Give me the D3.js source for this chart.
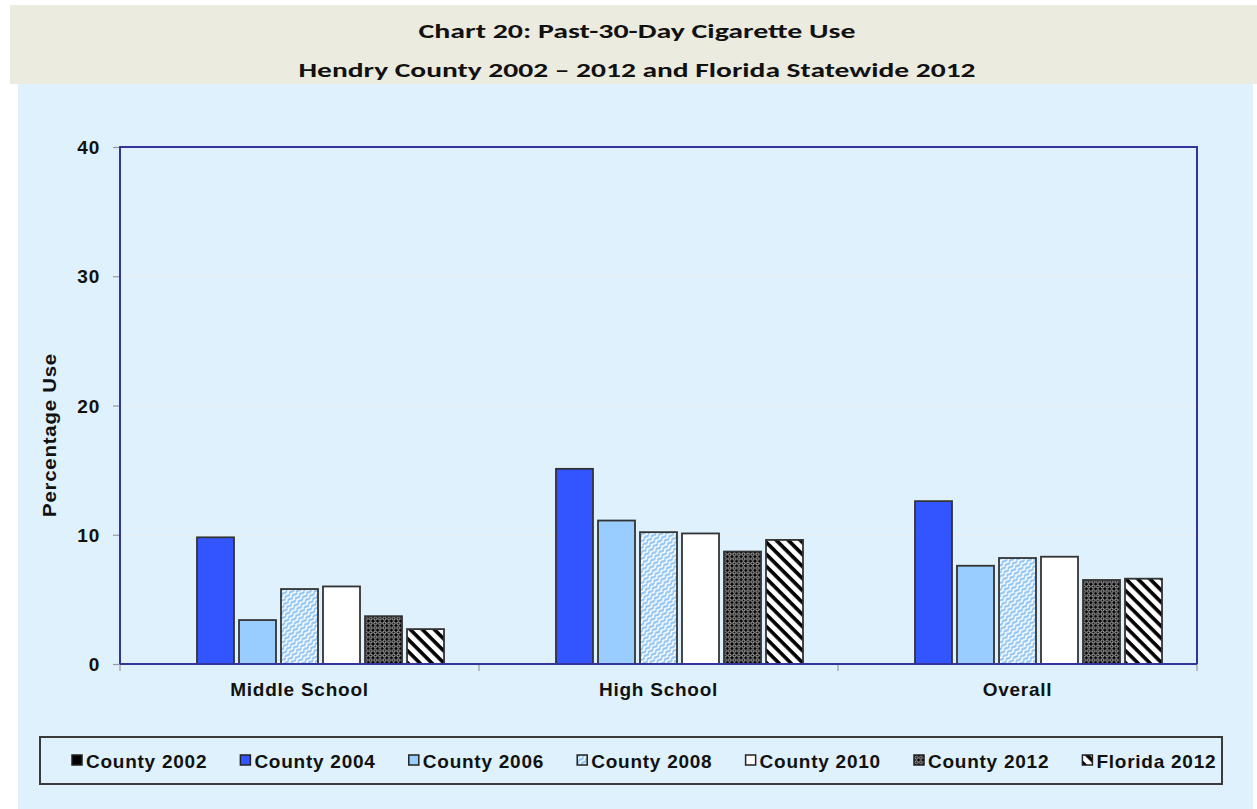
<!DOCTYPE html>
<html>
<head>
<meta charset="utf-8">
<script src="https://cdn.jsdelivr.net/npm/d3@7"></script>
<style>
  html, body { margin: 0; padding: 0; background: #ffffff; }
  svg { display: block; }
  .lbl { font-family: "Liberation Sans", Arial, sans-serif; font-weight: bold; font-size: 19px; fill: #111111; letter-spacing: 0.75px; }
</style>
</head>
<body>
<svg id="chart" width="1257" height="809"></svg>
<script>
const titleLines = ["Chart 20: Past-30-Day Cigarette Use", "Hendry County 2002 \u2013 2012 and Florida Statewide 2012"];
const categories = ["Middle School", "High School", "Overall"];
const seriesNames = ["County 2002", "County 2004", "County 2006", "County 2008", "County 2010", "County 2012", "Florida 2012"];
const county2002 = [null, null, null];
const county2004 = [9.8, 15.1, 12.6];
const county2006 = [3.4, 11.1, 7.6];
const county2008 = [5.8, 10.2, 8.2];
const county2010 = [6.0, 10.1, 8.3];
const county2012 = [3.7, 8.7, 6.5];
const florida2012 = [2.7, 9.6, 6.6];
const yTicks = [0, 10, 20, 30, 40];
const yTitle = "Percentage Use";

const seriesValues = [county2002, county2004, county2006, county2008, county2010, county2012, florida2012];
const fills = ["#000000", "#3355FF", "#99CCFF", "url(#p2008)", "#FFFFFF", "url(#p2012)", "url(#pFL)"];

const svg = d3.select("#chart");
const W = 1257, H = 809;
const plot = { left: 120, right: 1197, top: 147, bottom: 664 };

// defs / patterns
const defs = svg.append("defs");
const p08 = defs.append("pattern").attr("id", "p2008").attr("patternUnits", "userSpaceOnUse")
  .attr("width", 6).attr("height", 4.2).attr("patternTransform", "rotate(-45)");
p08.append("rect").attr("width", 6).attr("height", 4.2).attr("fill", "#ffffff");
p08.append("path").attr("d", "M0,2.1 Q1.5,0.7 3,2.1 T6,2.1").attr("fill", "none").attr("stroke", "#92C6F5").attr("stroke-width", 2.1);

const p12 = defs.append("pattern").attr("id", "p2012").attr("patternUnits", "userSpaceOnUse")
  .attr("width", 4.6).attr("height", 4.6);
p12.append("rect").attr("width", 4.6).attr("height", 4.6).attr("fill", "#000000");
p12.append("circle").attr("cx", 2.3).attr("cy", 2.3).attr("r", 1.5).attr("fill", "none").attr("stroke", "#ffffff").attr("stroke-width", 0.8);

const pFL = defs.append("pattern").attr("id", "pFL").attr("patternUnits", "userSpaceOnUse")
  .attr("width", 8.5).attr("height", 8.5).attr("patternTransform", "rotate(45)");
pFL.append("rect").attr("width", 8.5).attr("height", 8.5).attr("fill", "#ffffff");
pFL.append("rect").attr("width", 8.5).attr("height", 3.6).attr("fill", "#000000");

// backgrounds
svg.append("rect").attr("x", 10).attr("y", 5).attr("width", W - 10).attr("height", 79).attr("fill", "#ECEBDF");
svg.append("rect").attr("x", 18).attr("y", 84).attr("width", 1235).attr("height", H - 84).attr("fill", "#DEF1FC");

// title
const tLens = [437, 677];
const tY = [38, 77];
titleLines.forEach((t, i) => {
  svg.append("text").attr("x", 637).attr("y", tY[i]).attr("text-anchor", "middle")
    .attr("font-family", "Carlito, 'Open Sans', sans-serif").attr("font-weight", 800)
    .attr("font-size", 21).attr("fill", "#111")
    .attr("textLength", tLens[i]).attr("lengthAdjust", "spacingAndGlyphs")
    .text(t);
});

// scales
const y = d3.scaleLinear().domain([0, 40]).range([plot.bottom, plot.top]);
const x0 = d3.scaleBand().domain(categories).range([plot.left, plot.right]).paddingInner(0).paddingOuter(0);
const x1 = d3.scaleBand().domain(seriesNames).range([0, x0.bandwidth()]).paddingInner(0.119).paddingOuter(0.833);

// grid
svg.append("g").attr("transform", `translate(${plot.left},0)`)
  .call(d3.axisLeft(y).tickValues(yTicks.filter(v => v > 0 && v < 40)).tickSize(-(plot.right - plot.left)).tickFormat(""))
  .call(g => g.select(".domain").remove())
  .call(g => g.selectAll("line").attr("stroke", "#E9EFF2").attr("stroke-width", 1.5));

// y axis
svg.append("g").attr("transform", `translate(${plot.left},0)`)
  .call(d3.axisLeft(y).tickValues(yTicks).tickSize(7).tickPadding(13))
  .call(g => g.select(".domain").remove())
  .call(g => g.selectAll("line").attr("stroke", "#9a9a9a").attr("stroke-width", 1.2))
  .call(g => g.selectAll("text").attr("class", "lbl").attr("dy", "0.35em").attr("fill", "#111111"));

// bars
const groups = svg.append("g").selectAll("g").data(categories).join("g")
  .attr("transform", d => `translate(${x0(d)},0)`);
groups.selectAll("rect")
  .data((c, ci) => seriesNames.map((s, si) => ({ s, si, v: seriesValues[si][ci] })).filter(d => d.v != null))
  .join("rect")
  .attr("x", d => x1(d.s))
  .attr("width", x1.bandwidth())
  .attr("y", d => y(d.v))
  .attr("height", d => y(0) - y(d.v))
  .attr("fill", d => fills[d.si])
  .attr("stroke", "#333333")
  .attr("stroke-width", 1.8);

// x axis labels
svg.append("g").attr("transform", `translate(0,${plot.bottom})`)
  .call(d3.axisBottom(x0).tickSize(0).tickPadding(18.5))
  .call(g => g.select(".domain").remove())
  .call(g => g.selectAll("text").attr("class", "lbl").attr("fill", "#111111"));

// category boundary ticks
const bounds = categories.map(c => x0(c)).concat([x0(categories[categories.length - 1]) + x0.bandwidth()]);
svg.append("g").selectAll("line").data(bounds).join("line")
  .attr("x1", d => d).attr("x2", d => d).attr("y1", plot.bottom).attr("y2", plot.bottom + 7)
  .attr("stroke", "#9a9a9a").attr("stroke-width", 1.2);

// plot border
svg.append("path")
  .attr("d", `M${plot.left},${plot.bottom}V${plot.top}H${plot.right}V${plot.bottom}`)
  .attr("fill", "none").attr("stroke", "#34349A").attr("stroke-width", 2);
svg.append("line").attr("x1", plot.left).attr("x2", plot.right).attr("y1", plot.bottom).attr("y2", plot.bottom)
  .attr("stroke", "#34349A").attr("stroke-width", 2);

// y title
svg.append("text").attr("class", "lbl").attr("transform", "translate(56,435) rotate(-90)")
  .attr("text-anchor", "middle").attr("textLength", 164).attr("lengthAdjust", "spacingAndGlyphs").text(yTitle);

// legend
const lg = svg.append("g");
lg.append("rect").attr("x", 40).attr("y", 737).attr("width", 1182).attr("height", 47)
  .attr("fill", "#DEF1FC").attr("stroke", "#3a3a3a").attr("stroke-width", 2);
const items = lg.selectAll("g.item").data(seriesNames).join("g").attr("class", "item")
  .attr("transform", (d, i) => `translate(${72 + i * 168.4},760)`);
items.append("rect").attr("x", 0).attr("y", -5).attr("width", 10).attr("height", 10)
  .attr("fill", (d, i) => fills[i]).attr("stroke", "#222").attr("stroke-width", 1.5);
items.append("text").attr("class", "lbl").attr("x", 14).attr("y", 7.5).text(d => d);
</script>
</body>
</html>
